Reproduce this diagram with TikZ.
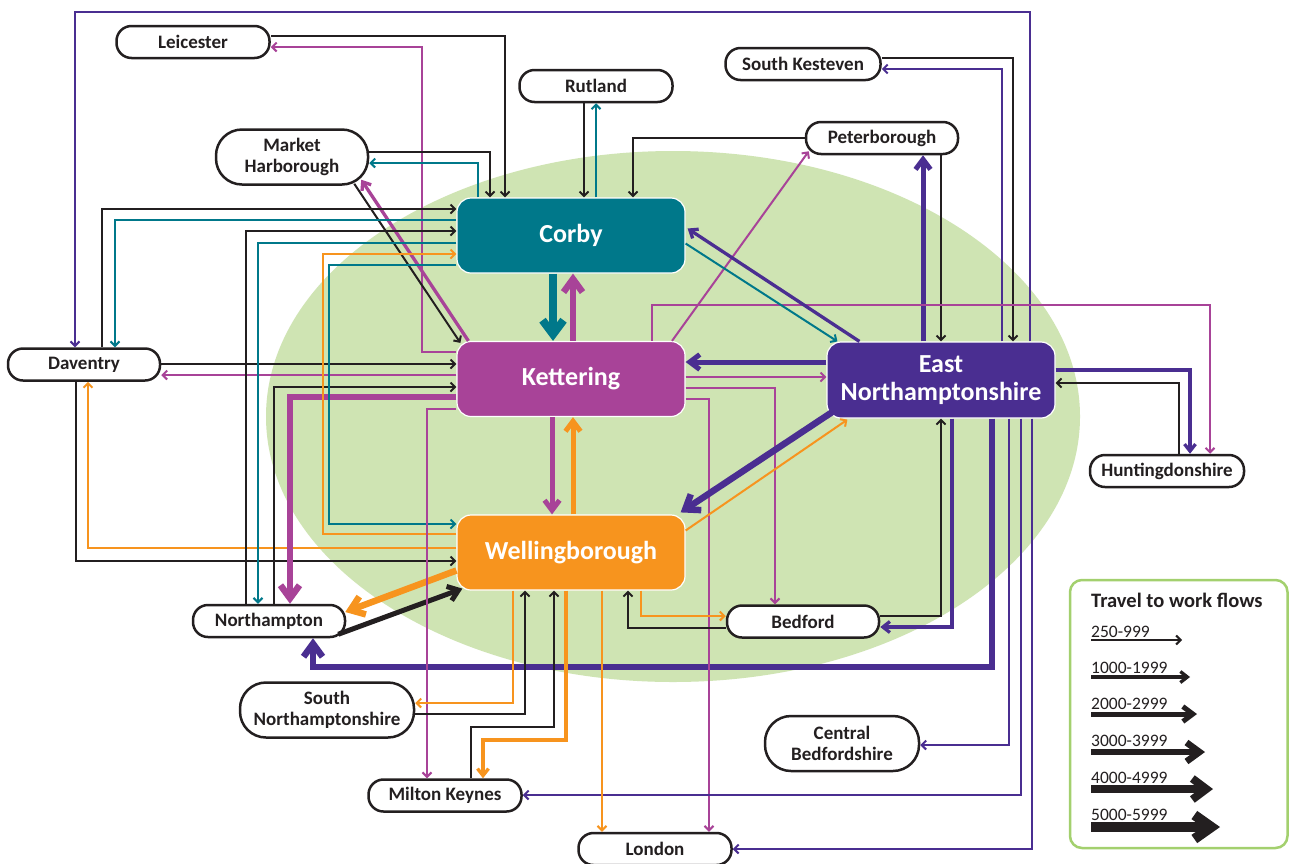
\documentclass[tikz,border=0pt]{standalone}
\usepackage{fontspec}
\setmainfont{Carlito}
\usetikzlibrary{arrows.meta,calc}
\definecolor{bk}{HTML}{231F20}
\definecolor{tl}{HTML}{00788A}
\definecolor{mg}{HTML}{A84398}
\definecolor{og}{HTML}{F7941E}
\definecolor{pu}{HTML}{4A2E91}
\definecolor{gr}{HTML}{CFE4B3}
\definecolor{lg}{HTML}{A3D06E}
\tikzset{
  outer/.style={draw=bk, line width=2.5pt, fill=white, rounded corners=15pt, minimum height=32pt, minimum width=153pt, inner sep=0pt, font=\bfseries\fontsize{19}{21}\selectfont, text=bk, align=center},
  outertwo/.style={outer, rounded corners=26pt, minimum height=55pt},
  mainbox/.style={draw=white, line width=1.2pt, rounded corners=14pt, minimum width=228pt, minimum height=75pt, inner sep=0pt, font=\bfseries\fontsize{26}{28}\selectfont, text=white, align=center},
  fa/.style={line width=2pt, -{Straight Barb[length=4.5pt,width=9pt]}},
  fb/.style={line width=3.3pt, -{Straight Barb[length=7pt,width=11pt]}},
  fc/.style={line width=5pt, -{Straight Barb[length=10pt,width=15pt]}},
  fd/.style={line width=6.5pt, -{Straight Barb[length=13pt,width=19pt]}},
  fe/.style={line width=8pt, -{Straight Barb[length=14pt,width=21pt]}},
  ff/.style={line width=10pt, -{Straight Barb[length=17pt,width=24pt]}},
  legtext/.style={anchor=south west, inner sep=0pt, font=\fontsize{17.5}{18}\selectfont, text=bk},
}
\begin{document}
\begin{tikzpicture}[x=1pt,y=-1pt, line join=miter]
\useasboundingbox (0,0) rectangle (1289,863);
\fill[white] (0,0) rectangle (1289,863);
% green area
\fill[gr] (673,416.5) ellipse [x radius=407, y radius=265.5];

% main nodes
\node[mainbox, fill=tl] (Corby) at (571,235.5) {Corby};
\node[mainbox, fill=mg] (Kettering) at (571,379) {Kettering};
\node[mainbox, fill=og] (Wellingborough) at (571,552.5) {Wellingborough};
\node[mainbox, fill=pu, minimum height=76pt] (EN) at (941,380) {East\\Northamptonshire};

% outer nodes
\node[outer] (Leicester) at (193,42) {Leicester};
\node[outer] (Rutland) at (596,86) {Rutland};
\node[outertwo, minimum width=152pt] (MH) at (292,157) {Market\\Harborough};
\node[outer, minimum width=155pt] (SK) at (803,64) {South Kesteven};
\node[outer, minimum width=152pt] (Peterborough) at (882,138) {Peterborough};
\node[outer, minimum width=152pt] (Daventry) at (84,364.5) {Daventry};
\node[outer, minimum width=154pt] (Huntingdonshire) at (1167,471) {Huntingdonshire};
\node[outer, minimum width=152pt] (Northampton) at (269,621) {Northampton};
\node[outer, minimum width=152pt] (Bedford) at (803,621.5) {Bedford};
\node[outertwo, minimum width=174pt] (SouthN) at (327,710) {South\\Northamptonshire};
\node[outertwo, minimum width=154pt] (CentralB) at (842,743.5) {Central\\Bedfordshire};
\node[outer] (MK) at (445,795.5) {Milton Keynes};
\node[outer] (London) at (655,849) {London};

% ---- connectors ----
% top frame EN -> Daventry
\draw[pu, fa] (EN.north -| 1030,0) |- (75,12) -- (Daventry.north -| 75,0);
% South Kesteven
\draw[bk, fa] (SK.east |- 0,58) -| (EN.north -| 1013,0);
\draw[pu, fa] (EN.north -| 1002,0) |- (SK.east |- 0,69);
% Peterborough
\draw[pu, fc] (EN.north -| 923,0) -- (Peterborough.south -| 923,0);
\draw[bk, fa] (Peterborough.south -| 941,0) -- (EN.north -| 941,0);
\draw[bk, fa] (Peterborough.west) -| (Corby.north -| 633,0);
\draw[mg, fa] (Kettering.north -| 672,0) -- ($(Peterborough.south west)+(4,-4)$);
% Rutland
\draw[bk, fa] (Rutland.south -| 584,0) -- (Corby.north -| 584,0);
\draw[tl, fa] (Corby.north -| 596,0) -- (Rutland.south -| 596,0);
% Leicester
\draw[bk, fa] (Leicester.east |- 0,36) -| (Corby.north -| 505,0);
\draw[mg, fa] (Kettering.west |- 0,352) -| (422,47) -- (Leicester.east |- 0,47);
% Market Harborough
\draw[bk, fa] (MH.east |- 0,152) -| (Corby.north -| 490,0);
\draw[tl, fa] (Corby.north -| 478,0) |- (MH.east |- 0,163);
\draw[bk, fa] ($(MH.south east)+(-15,-2)$) -- ($(Kettering.north west)+(4,2)$);
\draw[mg, fb] ($(Kettering.north west)+(12,0)$) -- ($(MH.south east)+(-8,-6)$);
% Daventry
\draw[bk, fa] (Daventry.north -| 102,0) |- (Corby.west |- 0,209);
\draw[tl, fa] (Corby.west |- 0,220) -| (Daventry.north -| 115,0);
\draw[bk, fa] (Daventry.east |- 0,364) -- (Kettering.west |- 0,364);
\draw[mg, fa] (Kettering.west |- 0,375) -- (Daventry.east |- 0,375);
\draw[bk, fa] (Daventry.south -| 76,0) |- (Wellingborough.west |- 0,561);
\draw[og, fa] (Wellingborough.west |- 0,548) -| (Daventry.south -| 88,0);
% Northampton
\draw[bk, fa] (Northampton.north -| 246,0) |- (Corby.west |- 0,231);
\draw[tl, fa] (Corby.west |- 0,243) -| (Northampton.north -| 258,0);
\draw[bk, fa] (Northampton.north -| 274,0) |- (Kettering.west |- 0,387);
\draw[mg, fd] (Kettering.west |- 0,397) -| (Northampton.north -| 290,0);
\draw[og, fd] ($(Wellingborough.west)+(0,18)$) -- ($(Northampton.east)+(-1,-9)$);
\draw[bk, fc] ($(Northampton.south east)+(-8,-4)$) -- ($(Wellingborough.south west)+(6,-2)$);
\draw[pu, fd] (EN.south -| 992,0) |- (313,667) -- (Northampton.south -| 313,0);
% Wellingborough <-> Corby
\draw[og, fa] (Wellingborough.west |- 0,534) -| (323,254) -- (Corby.west |- 0,254);
\draw[tl, fa] (Corby.west |- 0,265) -| (329,524) -- (Wellingborough.west |- 0,524);
% Kettering -> Milton Keynes
\draw[mg, fa] (Kettering.west |- 0,409) -| (MK.north -| 427,0);
% vertical main flows
\draw[tl, fe] (Corby.south -| 553,0) -- (Kettering.north -| 553,0);
\draw[mg, fd] (Kettering.north -| 573,0) -- (Corby.south -| 573,0);
\draw[mg, fc] (Kettering.south -| 552,0) -- (Wellingborough.north -| 552,0);
\draw[og, fc] (Wellingborough.north -| 573,0) -- (Kettering.south -| 573,0);
% Kettering <-> EN and others on the right
\draw[pu, fc] (EN.west |- 0,362) -- (Kettering.east |- 0,362);
\draw[mg, fa] (Kettering.east |- 0,377) -- (EN.west |- 0,377);
\draw[mg, fa] (Kettering.east |- 0,388) -| (Bedford.north -| 775,0);
\draw[mg, fa] (Kettering.east |- 0,399) -| (London.north -| 709,0);
\draw[mg, fa] (Kettering.north -| 652,0) |- (1210,305) -- (Huntingdonshire.north -| 1210,0);
% Corby <-> EN
\draw[pu, fb] ($(EN.north west)+(33,0)$) -- ($(Corby.east)+(2,-7)$);
\draw[tl, fa] ($(Corby.east)+(0,8)$) -- ($(EN.north west)+(11,0)$);
% Wellingborough <-> EN
\draw[pu, fd] ($(EN.south west)+(8,-8)$) -- ($(Wellingborough.north east)+(-5,-2)$);
\draw[og, fa] ($(Wellingborough.east)+(0,-22)$) -- ($(EN.south west)+(21,1)$);
% Huntingdonshire
\draw[pu, fb] (EN.east |- 0,370) -| (Huntingdonshire.north -| 1190,0);
\draw[bk, fa] (Huntingdonshire.north -| 1179,0) |- (EN.east |- 0,383);
% Bedford
\draw[bk, fa] (Bedford.east |- 0,616) -| (EN.south -| 941,0);
\draw[pu, fb] (EN.south -| 952,0) |- (Bedford.east |- 0,627);
\draw[og, fa] (Wellingborough.south -| 641,0) |- (Bedford.west |- 0,616);
\draw[bk, fa] (Bedford.west |- 0,628) -| (Wellingborough.south -| 628,0);
% EN to the south
\draw[pu, fa] (EN.south -| 1009,0) |- (CentralB.east |- 0,745);
\draw[pu, fa] (EN.south -| 1021,0) |- (MK.east |- 0,795);
\draw[pu, fa] (EN.south -| 1032,0) |- (London.east |- 0,849);
% Wellingborough to the south
\draw[og, fa] (Wellingborough.south -| 513,0) |- (SouthN.east |- 0,703);
\draw[bk, fa] (SouthN.east |- 0,714) -| (Wellingborough.south -| 525,0);
\draw[bk, fa] (MK.north -| 471,0) |- (554,727) -- (Wellingborough.south -| 554,0);
\draw[og, fb] (Wellingborough.south -| 566,0) |- (483,740) -- (MK.north -| 483,0);
\draw[og, fa] (Wellingborough.south -| 602,0) -- (London.north -| 602,0);

% ---- legend ----
\draw[lg, line width=2.5pt, fill=white, rounded corners=12pt] (1070,580) rectangle (1287.5,848);
\node[anchor=west, inner sep=0pt, font=\bfseries\fontsize{20.5}{22}\selectfont, text=bk] (legtitle) at (1091,600) {Travel to work flows};
\node[legtext] (l1) at (1091,638) {250-999};
\node[legtext] (l2) at (1091,674) {1000-1999};
\node[legtext] (l3) at (1091,710) {2000-2999};
\node[legtext] (l4) at (1091,747) {3000-3999};
\node[legtext] (l5) at (1091,784) {4000-4999};
\node[legtext] (l6) at (1091,821) {5000-5999};
\draw[bk, fa] (1091,640) -- (1182,640);
\draw[bk, fb] (1091,677) -- (1190,677);
\draw[bk, fc] (1091,714) -- (1197,714);
\draw[bk, fd] (1091,752) -- (1205,752);
\draw[bk, fe] (1091,789) -- (1213,789);
\draw[bk, ff] (1091,827) -- (1220,827);
\end{tikzpicture}
\end{document}
